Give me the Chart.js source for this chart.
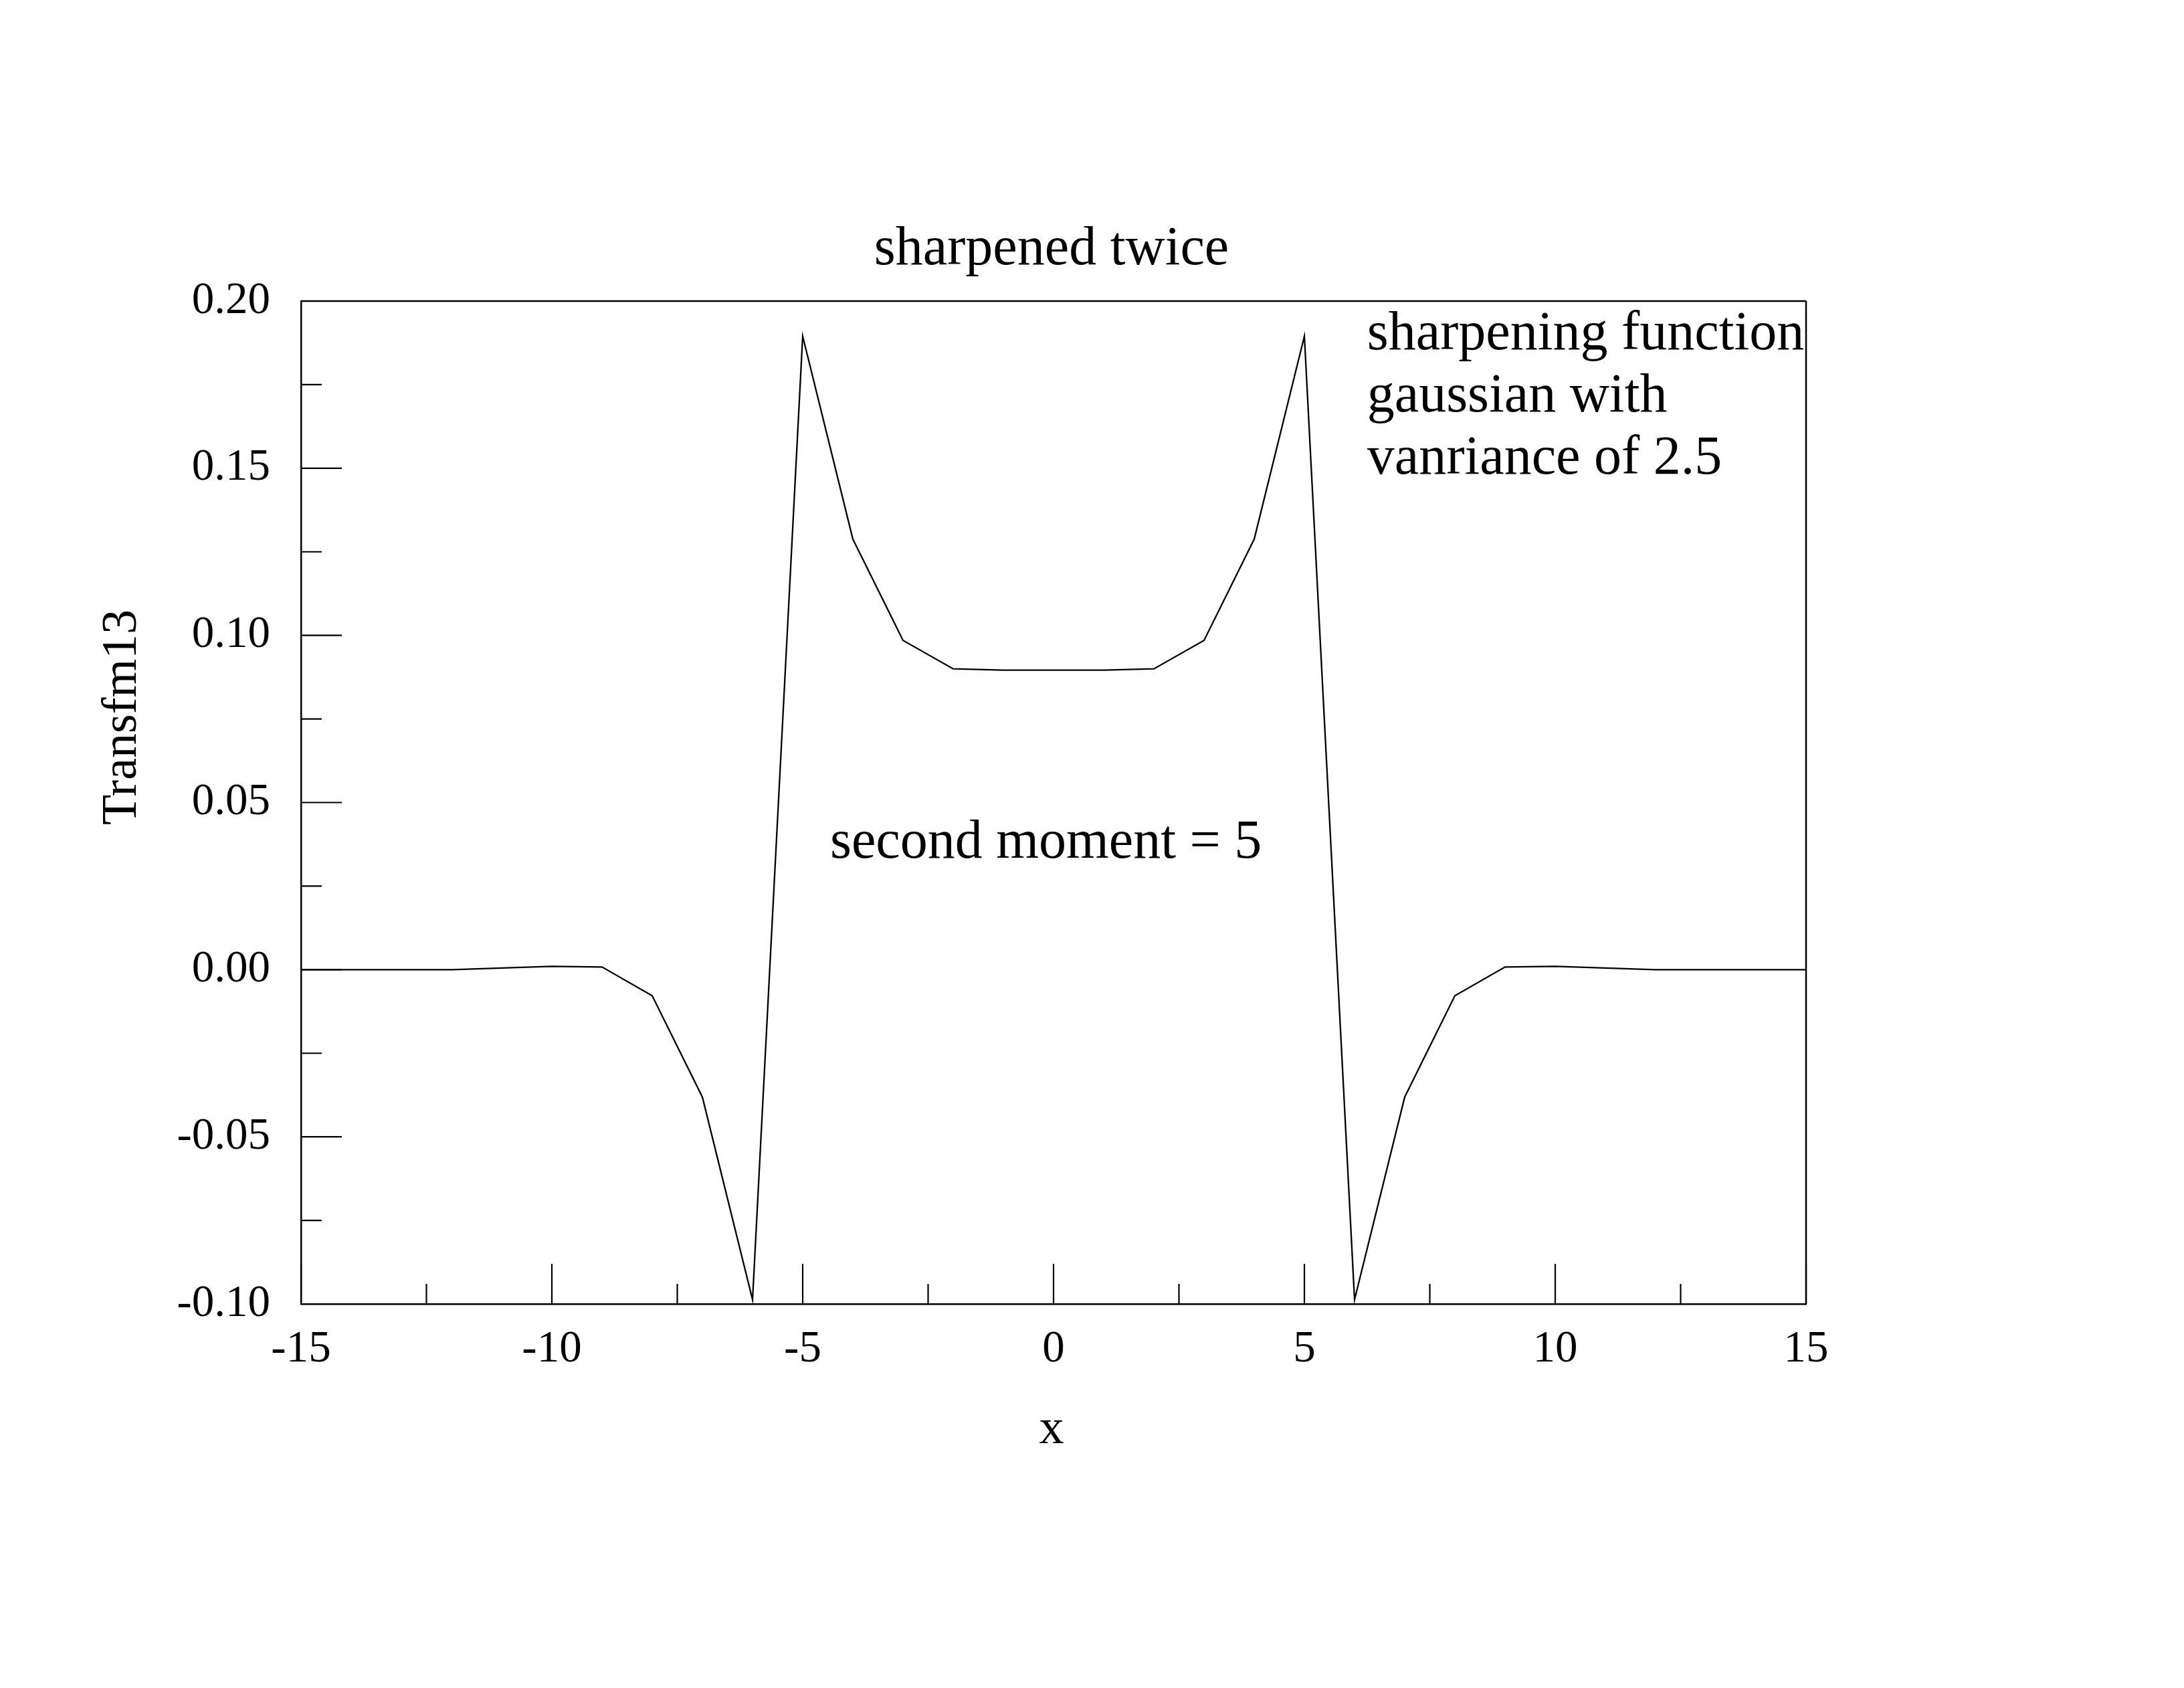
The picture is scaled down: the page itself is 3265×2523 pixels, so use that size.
<!DOCTYPE html>
<html><head><meta charset="utf-8">
<script src="https://cdn.jsdelivr.net/npm/chart.js@4.4.1/dist/chart.umd.min.js"></script>
<style>html,body{margin:0;padding:0;background:#fff;}canvas{display:block;}</style>
</head><body>
<canvas id="c" width="3265" height="2523" style="width:3265px;height:2523px"></canvas>
<script>
// ---- data ----
const xValues = [-15,-14,-13,-12,-11,-10,-9,-8,-7,-6,-5,-4,-3,-2,-1,0,1,2,3,4,5,6,7,8,9,10,11,12,13,14,15];
const yValues = [0,0,0,0,0.0005,0.0010,0.0008,-0.0078,-0.0381,-0.0987,0.1895,0.1288,0.0985,0.0900,0.0896,0.0896,0.0896,0.0900,0.0985,0.1288,0.1895,-0.0987,-0.0381,-0.0078,0.0008,0.0010,0.0005,0,0,0,0];
const xTickLabels = [-15,-10,-5,0,5,10,15];
const yTickLabels = [-0.10,-0.05,0.00,0.05,0.10,0.15,0.20];
const xMinorTicks = [-12.5,-7.5,-2.5,2.5,7.5,12.5];
const yMinorTicks = [-0.075,-0.025,0.025,0.075,0.125,0.175];
const chartTitle = 'sharpened twice';
const xTitle = 'x';
const yTitle = 'Transfm13';
const noteLines = ['sharpening function','gaussian with','vanriance of 2.5'];
const momentNote = 'second moment = 5';

const FONT = "'Liberation Serif', 'Times New Roman', serif";

const decor = {
  id: 'decor',
  beforeDraw(chart) {
    const ctx = chart.ctx;
    ctx.save();
    ctx.fillStyle = '#fff';
    ctx.fillRect(0, 0, chart.width, chart.height);
    ctx.restore();
  },
  afterDraw(chart) {
    const ctx = chart.ctx;
    const a = chart.chartArea;
    const xs = chart.scales.x, ys = chart.scales.y;
    ctx.save();
    ctx.strokeStyle = '#000';
    ctx.lineWidth = 2.5;
    ctx.lineCap = 'butt';
    // top and right frame
    ctx.beginPath();
    ctx.moveTo(a.left, a.top); ctx.lineTo(a.right, a.top);
    ctx.moveTo(a.right, a.top); ctx.lineTo(a.right, a.bottom);
    ctx.stroke();
    // ticks (inside)
    ctx.lineWidth = 2.2;
    ctx.beginPath();
    xTickLabels.forEach(v => { const p = xs.getPixelForValue(v); ctx.moveTo(p, a.bottom); ctx.lineTo(p, a.bottom - 60); });
    xMinorTicks.forEach(v => { const p = xs.getPixelForValue(v); ctx.moveTo(p, a.bottom); ctx.lineTo(p, a.bottom - 30); });
    yTickLabels.forEach(v => { const p = ys.getPixelForValue(v); ctx.moveTo(a.left, p); ctx.lineTo(a.left + 61, p); });
    yMinorTicks.forEach(v => { const p = ys.getPixelForValue(v); ctx.moveTo(a.left, p); ctx.lineTo(a.left + 31, p); });
    ctx.stroke();
    // texts
    ctx.fillStyle = '#000';
    ctx.font = '82px ' + FONT;
    ctx.textAlign = 'center';
    ctx.textBaseline = 'alphabetic';
    ctx.fillText(chartTitle, (a.left + a.right) / 2 - 3, 395);
    ctx.textAlign = 'left';
    const nx = xs.getPixelForValue(6.25);
    const ny = ys.getPixelForValue(0.1856);
    noteLines.forEach((t, i) => ctx.fillText(t, nx, ny + i * 93));
    ctx.fillText(momentNote, xs.getPixelForValue(-4.453), ys.getPixelForValue(0.0335));
    ctx.font = '74px ' + FONT;
    ctx.textAlign = 'center';
    ctx.fillText(xTitle, (a.left + a.right) / 2 - 3, 2157);
    ctx.save();
    ctx.translate(203, 1072);
    ctx.rotate(-Math.PI / 2);
    ctx.fillText(yTitle, 0, 0);
    ctx.restore();
    ctx.restore();
  }
};

new Chart(document.getElementById('c'), {
  type: 'line',
  data: {
    datasets: [{
      data: xValues.map((x, i) => ({x: x, y: yValues[i]})),
      borderColor: '#000',
      borderWidth: 2.3,
      pointRadius: 0,
      fill: false,
      tension: 0
    }]
  },
  options: {
    responsive: false,
    animation: false,
    devicePixelRatio: 1,
    layout: {padding: {left: 250, right: 565, top: 450, bottom: 374}},
    plugins: {legend: {display: false}, tooltip: {enabled: false}, title: {display: false}},
    scales: {
      x: {
        type: 'linear', min: -15, max: 15,
        afterFit(s) { s.height = 200; },
        afterBuildTicks(s) { s.ticks = xTickLabels.map(v => ({value: v})); },
        grid: {display: false, drawTicks: false},
        border: {display: true, color: '#000', width: 2.5},
        ticks: {color: '#000', font: {family: FONT, size: 67}, padding: 28, maxRotation: 0, autoSkip: false,
                callback: v => String(v)}
      },
      y: {
        type: 'linear', min: -0.1, max: 0.2,
        afterFit(s) { s.width = 200; },
        afterBuildTicks(s) { s.ticks = yTickLabels.map(v => ({value: v})); },
        grid: {display: false, drawTicks: false},
        border: {display: true, color: '#000', width: 2.5},
        ticks: {color: '#000', font: {family: FONT, size: 67}, padding: 46, autoSkip: false,
                callback: v => Number(v).toFixed(2)}
      }
    }
  },
  plugins: [decor]
});
</script>
</body></html>
